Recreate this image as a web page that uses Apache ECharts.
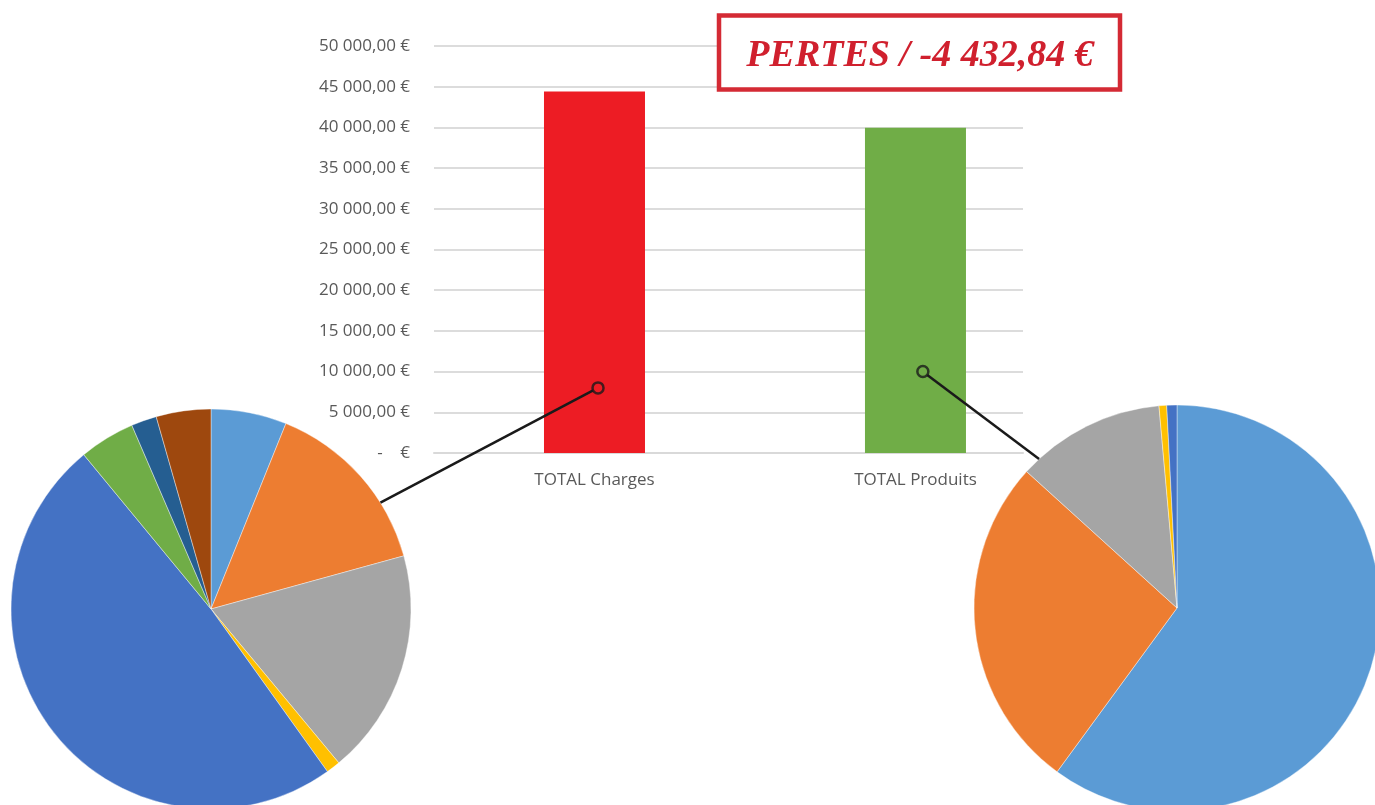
<!DOCTYPE html>
<html>
<head>
<meta charset="utf-8">
<script src="https://cdn.jsdelivr.net/npm/echarts@6/dist/echarts.min.js"></script>
<style>
  html, body { margin: 0; padding: 0; background: #fff; }
  #chart { width: 1375px; height: 805px; }
</style>
</head>
<body>
<div id="chart"></div>
<script>
// totaux (barres)
const categories = ['TOTAL Charges', 'TOTAL Produits'];
const totals = [44400.00, 39967.16];
const barColors = ['#ED1C24', '#70AD47'];

// détail des charges (camembert gauche)
const chargesNames = ['Charges 1', 'Charges 2', 'Charges 3', 'Charges 4', 'Charges 5', 'Charges 6', 'Charges 7', 'Charges 8'];
const chargesValues = [2713, 6487, 8103, 506, 21719, 1998, 913, 1961];
const chargesColors = ['#5B9BD5', '#ED7D31', '#A5A5A5', '#FFC000', '#4472C4', '#70AD47', '#255E91', '#9E480E'];

// détail des produits (camembert droit)
const produitsNames = ['Produits 1', 'Produits 2', 'Produits 3', 'Produits 4', 'Produits 5'];
const produitsValues = [24003, 10658, 4740, 244, 322];
const produitsColors = ['#5B9BD5', '#ED7D31', '#A5A5A5', '#FFC000', '#4472C4'];

// points d'accroche des connecteurs (dans la barre) et angle d'arrivée sur le camembert
const anchorX = [0.511, 1.523];
const anchorY = [8000, 10000];
const pieEdgeAngle = [57.9, 317.2];

const pieLayout = [
  { center: [211, 609], radius: 200 },
  { center: [1177, 608], radius: 203 }
];

function euro(v) {
  if (v === 0) return '-    €';
  const neg = v < 0;
  const parts = Math.abs(v).toFixed(2).split('.');
  const intPart = parts[0].replace(/\B(?=(\d{3})+(?!\d))/g, ' ');
  return (neg ? '-' : '') + intPart + ',' + parts[1] + ' €';
}

const resultat = totals[1] - totals[0];
const titleText = (resultat < 0 ? 'PERTES / ' : 'BÉNÉFICES / ') + euro(resultat);

const chart = echarts.init(document.getElementById('chart'));

const labelFont = '"Open Sans", sans-serif';

chart.setOption({
  animation: false,
  grid: { left: 434, right: 352, top: 46, bottom: 352 },
  xAxis: {
    type: 'value',
    min: 0,
    max: 1.835,
    splitLine: { show: false },
    axisTick: { show: false },
    axisLine: { show: true, lineStyle: { color: '#D9D9D9', width: 2 } },
    axisLabel: {
      customValues: [0.5, 1.5],
      formatter: v => categories[Math.round(v - 0.5)],
      color: '#595959',
      fontFamily: labelFont,
      fontSize: 17,
      margin: 19
    }
  },
  yAxis: {
    type: 'value',
    min: 0,
    max: 50000,
    interval: 5000,
    axisLine: { show: false },
    axisTick: { show: false },
    splitLine: { lineStyle: { color: '#DCDCDC', width: 2 } },
    axisLabel: {
      formatter: v => euro(v),
      color: '#595959',
      fontFamily: labelFont,
      fontSize: 17,
      margin: 24
    }
  },
  series: [
    {
      type: 'bar',
      barWidth: 101,
      data: totals.map((v, i) => ({ value: [i + 0.5, v], itemStyle: { color: barColors[i] } })),
      silent: true
    },
    {
      type: 'scatter',
      z: 60,
      symbol: 'circle',
      symbolSize: 11,
      itemStyle: { color: 'rgba(0,0,0,0)', borderColor: '#1A1A1A', borderWidth: 2.5 },
      data: anchorX.map((x, i) => [x, anchorY[i]]),
      silent: true
    },
    {
      type: 'pie',
      center: pieLayout[0].center,
      radius: pieLayout[0].radius,
      startAngle: 90,
      clockwise: true,
      label: { show: false },
      labelLine: { show: false },
      silent: true,
      itemStyle: { borderColor: '#fff', borderWidth: 0.4 },
      data: chargesValues.map((v, i) => ({ name: chargesNames[i], value: v, itemStyle: { color: chargesColors[i] } }))
    },
    {
      type: 'pie',
      center: pieLayout[1].center,
      radius: pieLayout[1].radius,
      startAngle: 90,
      clockwise: true,
      label: { show: false },
      labelLine: { show: false },
      silent: true,
      itemStyle: { borderColor: '#fff', borderWidth: 0.4 },
      data: produitsValues.map((v, i) => ({ name: produitsNames[i], value: v, itemStyle: { color: produitsColors[i] } }))
    }
  ]
});

// connecteurs barre -> camembert
const markerR = 5.5;
const connectors = anchorX.map((x, i) => {
  const p = chart.convertToPixel({ gridIndex: 0 }, [x, anchorY[i]]);
  const pie = pieLayout[i];
  const a = pieEdgeAngle[i] * Math.PI / 180;
  const ex = pie.center[0] + pie.radius * Math.sin(a);
  const ey = pie.center[1] - pie.radius * Math.cos(a);
  const dx = ex - p[0], dy = ey - p[1];
  const len = Math.sqrt(dx * dx + dy * dy);
  return {
    type: 'line',
    z: 50,
    silent: true,
    shape: { x1: p[0] + dx / len * markerR, y1: p[1] + dy / len * markerR, x2: ex, y2: ey },
    style: { stroke: '#1A1A1A', lineWidth: 2.5 }
  };
});

chart.setOption({
  graphic: connectors.concat([
    {
      type: 'rect',
      z: 100,
      silent: true,
      shape: { x: 719, y: 15.5, width: 401, height: 74 },
      style: { fill: '#fff', stroke: '#D42A34', lineWidth: 4.5 }
    },
    {
      type: 'text',
      z: 101,
      silent: true,
      x: 920,
      y: 56,
      style: {
        text: titleText,
        font: 'italic bold 38px "Liberation Serif", serif',
        fill: '#D0202E',
        textAlign: 'center',
        textVerticalAlign: 'middle',
        align: 'center',
        verticalAlign: 'middle'
      }
    }
  ])
});
</script>
</body>
</html>
